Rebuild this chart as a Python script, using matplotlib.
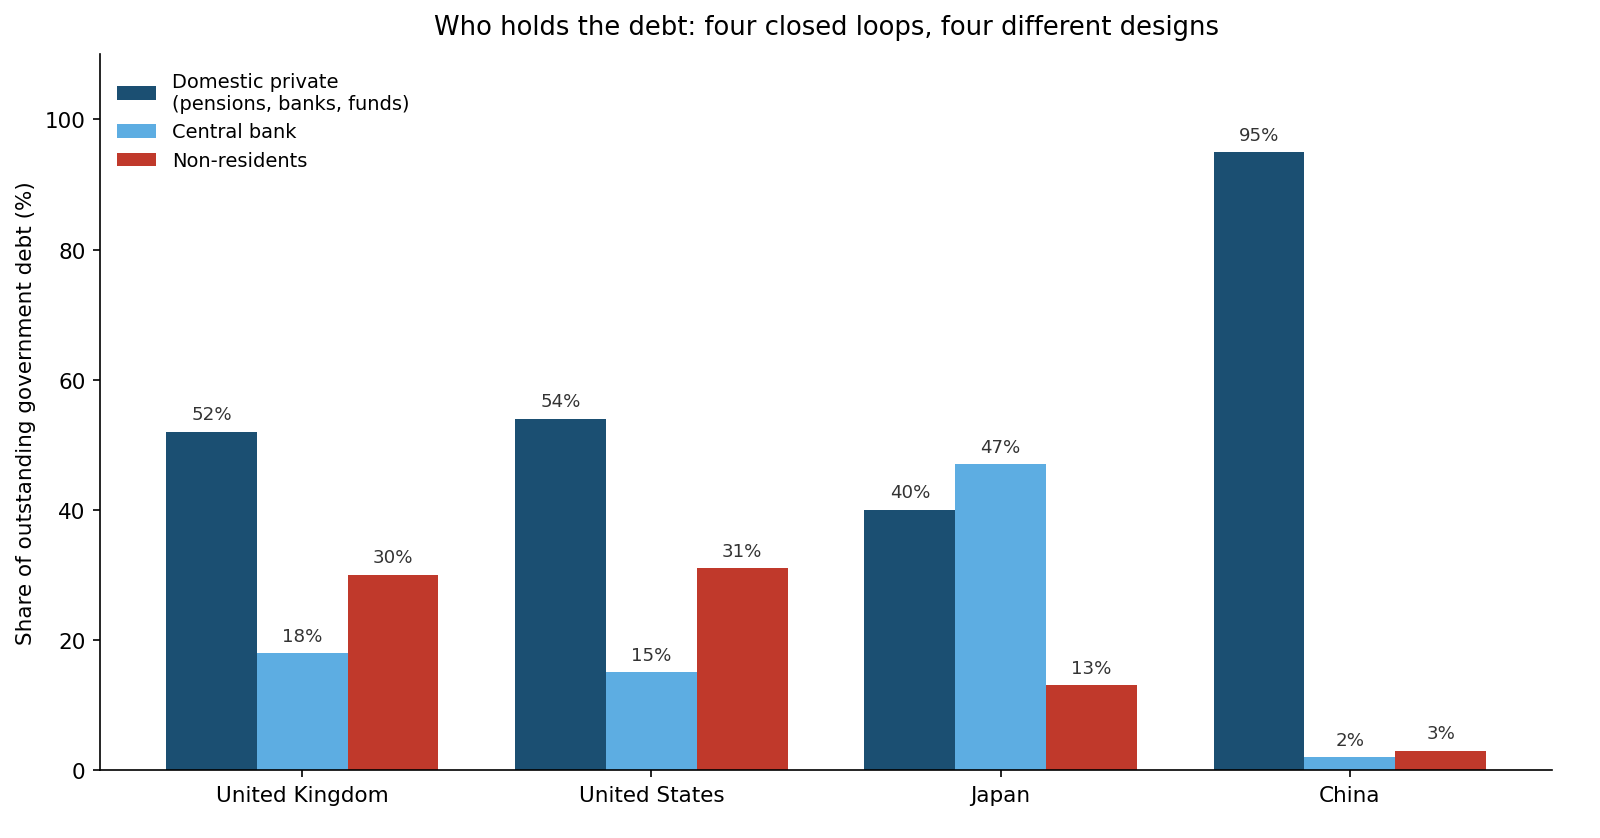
import numpy as np
import matplotlib.pyplot as plt

# Data
countries = ['United Kingdom', 'United States', 'Japan', 'China']
domestic_private = [52, 54, 40, 95]
central_bank = [18, 15, 47, 2]
non_residents = [30, 31, 13, 3]

series = [
    ('Domestic private\n(pensions, banks, funds)', domestic_private, '#1b4f72'),
    ('Central bank', central_bank, '#5dade2'),
    ('Non-residents', non_residents, '#c0392b'),
]

x = np.arange(len(countries))
w = 0.26
s = 1.033  # font scale

fig, ax = plt.subplots(figsize=(10.667, 5.593), dpi=150)
fig.subplots_adjust(left=0.0625, right=0.97, top=0.934, bottom=0.081)

for i, (name, vals, col) in enumerate(series):
    bars = ax.bar(x + (i - 1) * w, vals, w, label=name, color=col)
    for b, v in zip(bars, vals):
        ax.annotate(f'{v}%', (b.get_x() + b.get_width() / 2, v),
                    xytext=(0, 4), textcoords='offset points',
                    ha='center', va='bottom', fontsize=8.5 * s, color='#333333')

ax.set_xticks(x)
ax.set_xticklabels(countries, fontsize=10 * s)
ax.tick_params(axis='y', labelsize=10 * s)
ax.set_ylim(0, 110)
ax.set_ylabel('Share of outstanding government debt (%)', fontsize=10 * s)
ax.set_title('Who holds the debt: four closed loops, four different designs',
             fontsize=12 * s, pad=10)
ax.spines['top'].set_visible(False)
ax.spines['right'].set_visible(False)
ax.legend(loc='upper left', frameon=False, fontsize=9 * s)

plt.savefig('out.png')
